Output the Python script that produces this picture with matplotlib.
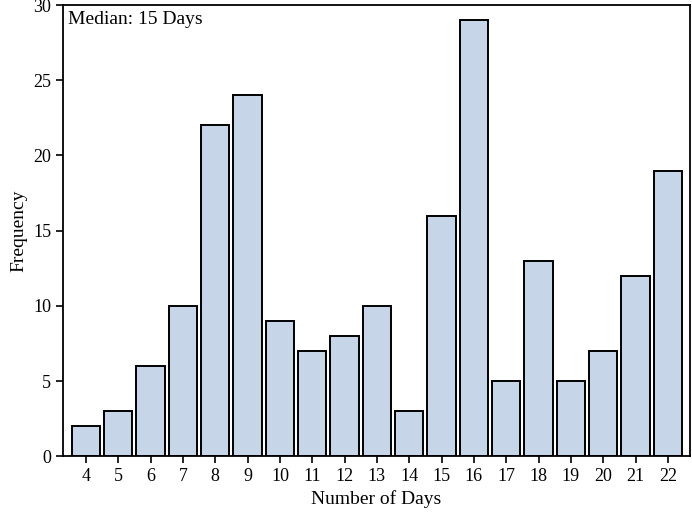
import matplotlib
matplotlib.use('Agg')
import matplotlib.pyplot as plt

days = [4, 5, 6, 7, 8, 9, 10, 11, 12, 13, 14, 15, 16, 17, 18, 19, 20, 21, 22]
freq = [2, 3, 6, 10, 22, 24, 9, 7, 8, 10, 3, 16, 29, 5, 13, 5, 7, 12, 19]

plt.rcParams['font.family'] = ['Liberation Serif', 'DejaVu Serif']

fig = plt.figure(figsize=(6.92, 5.12), dpi=100)
ax = fig.add_axes([0.091, 0.109, 0.906, 0.881])

ax.bar(days, freq, width=0.88, color='#c6d6e8', edgecolor='black', linewidth=1.4)

ax.set_xlim(3.29, 22.68)
ax.set_ylim(0, 30)
ax.set_xticks(days)
ax.set_yticks([0, 5, 10, 15, 20, 25, 30])
ax.tick_params(direction='out', length=5, width=1.2, labelsize=13)
for s in ax.spines.values():
    s.set_linewidth(1.3)

ax.set_xlabel('Number of Days', fontsize=14)
ax.set_ylabel('Frequency', fontsize=14)
ax.text(0.008, 0.988, 'Median: 15 Days', transform=ax.transAxes,
        ha='left', va='top', fontsize=14)

fig.savefig('out.png', dpi=100)
